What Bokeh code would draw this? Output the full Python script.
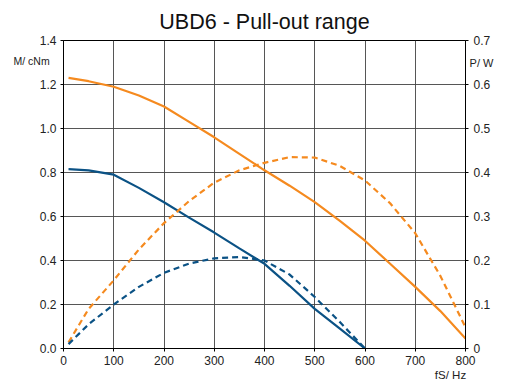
from bokeh.plotting import figure
from bokeh.models import Range1d, LinearAxis, FixedTicker, Label, CustomJSTickFormatter
from bokeh.embed import file_html
from bokeh.resources import INLINE

# Data
f_orange_m = [10, 50, 100, 150, 200, 250, 300, 350, 400, 450, 500, 550, 600, 650, 700, 750, 800]
m_orange = [1.23, 1.215, 1.19, 1.15, 1.10, 1.03, 0.96, 0.885, 0.81, 0.74, 0.665, 0.58, 0.49, 0.385, 0.28, 0.17, 0.045]

f_blue_m = [10, 50, 100, 150, 200, 250, 300, 350, 400, 450, 500, 550, 600]
m_blue = [0.815, 0.81, 0.79, 0.73, 0.665, 0.595, 0.527, 0.455, 0.385, 0.285, 0.18, 0.09, 0.0]

f_blue_p = [10, 50, 100, 150, 200, 250, 300, 350, 400, 450, 500, 550, 600]
p_blue = [0.01, 0.055, 0.10, 0.14, 0.172, 0.193, 0.205, 0.208, 0.20, 0.168, 0.117, 0.06, 0.0]

f_orange_p = [10, 50, 100, 150, 200, 250, 300, 350, 400, 450, 500, 550, 600, 650, 700, 750, 800]
p_orange = [0.014, 0.09, 0.155, 0.225, 0.285, 0.335, 0.377, 0.405, 0.422, 0.435, 0.434, 0.415, 0.382, 0.33, 0.262, 0.165, 0.048]

x_ticks = [0, 100, 200, 300, 400, 500, 600, 700, 800]
m_ticks = [0.0, 0.2, 0.4, 0.6, 0.8, 1.0, 1.2, 1.4]
p_ticks = [0.0, 0.1, 0.2, 0.3, 0.4, 0.5, 0.6, 0.7]

ORANGE = "#f58a1f"
BLUE = "#0b5285"
FONT = "Liberation Sans"

p = figure(width=528, height=382, output_backend="svg", toolbar_location=None,
           x_range=Range1d(0, 800), y_range=Range1d(0, 1.4),
           title="UBD6 - Pull-out range",
           min_border_left=63, min_border_right=63, min_border_top=40, min_border_bottom=34)
p.title.align = "center"
p.title.text_font = FONT
p.title.text_font_size = "21.5px"
p.title.text_font_style = "normal"
p.title.text_color = "#111111"
p.title.standoff = 13
p.title.offset = 0
p.outline_line_color = "black"
p.outline_line_width = 1
p.background_fill_color = "white"
p.border_fill_color = "white"

p.extra_y_ranges = {"P": Range1d(0, 0.7)}

for ax in [p.xaxis[0], p.yaxis[0]]:
    ax.major_label_text_font = FONT
    ax.major_label_text_font_size = "12px"
    ax.major_label_text_color = "#222222"
    ax.axis_line_color = "black"
    ax.major_tick_line_color = "black"
    ax.minor_tick_line_color = None
    ax.major_tick_in = 0
    ax.major_tick_out = 3

p.xaxis[0].ticker = FixedTicker(ticks=x_ticks)
p.xaxis[0].major_label_standoff = 4
p.yaxis[0].ticker = FixedTicker(ticks=m_ticks)
p.yaxis[0].formatter = CustomJSTickFormatter(code="return tick.toFixed(1);")
p.yaxis[0].major_label_standoff = 4

ry = LinearAxis(y_range_name="P", ticker=FixedTicker(ticks=p_ticks),
                formatter=CustomJSTickFormatter(code="return tick == 0 ? '0' : tick.toFixed(1);"))
ry.major_label_text_font = FONT
ry.major_label_text_font_size = "12px"
ry.major_label_text_color = "#222222"
ry.axis_line_color = "black"
ry.major_tick_line_color = "black"
ry.minor_tick_line_color = None
ry.major_tick_in = 0
ry.major_tick_out = 3
ry.major_label_standoff = 5
p.add_layout(ry, "right")

p.xgrid.ticker = FixedTicker(ticks=x_ticks)
p.ygrid.ticker = FixedTicker(ticks=m_ticks)
p.grid.grid_line_color = "#444444"
p.grid.grid_line_width = 1
p.grid.grid_line_alpha = 0.9

p.line(f_orange_m, m_orange, line_color=ORANGE, line_width=2.2)
p.line(f_blue_m, m_blue, line_color=BLUE, line_width=2.2)
p.line(f_orange_p, p_orange, line_color=ORANGE, line_width=2.2, line_dash="6 4", y_range_name="P")
p.line(f_blue_p, p_blue, line_color=BLUE, line_width=2.2, line_dash="6 4", y_range_name="P")

# Labels placed in side panels (screen units relative to the panel's bottom-left)
p.add_layout(Label(x=13, y=288, x_units="screen", y_units="screen",
                   text="M/ cNm", text_font=FONT, text_font_size="10.5px",
                   text_color="#222222", text_align="left", text_baseline="middle"), "left")
p.add_layout(Label(x=-12, y=286, x_units="screen", y_units="screen",
                   text="P/ W", text_font=FONT, text_font_size="11px",
                   text_color="#222222", text_align="center", text_baseline="middle"), "right")
p.add_layout(Label(x=387, y=5, x_units="screen", y_units="screen",
                   text="fS/ Hz", text_font=FONT, text_font_size="11.5px",
                   text_color="#222222", text_align="center", text_baseline="middle"), "below")

html = file_html(p, INLINE)
open("out.html", "w").write(html)
